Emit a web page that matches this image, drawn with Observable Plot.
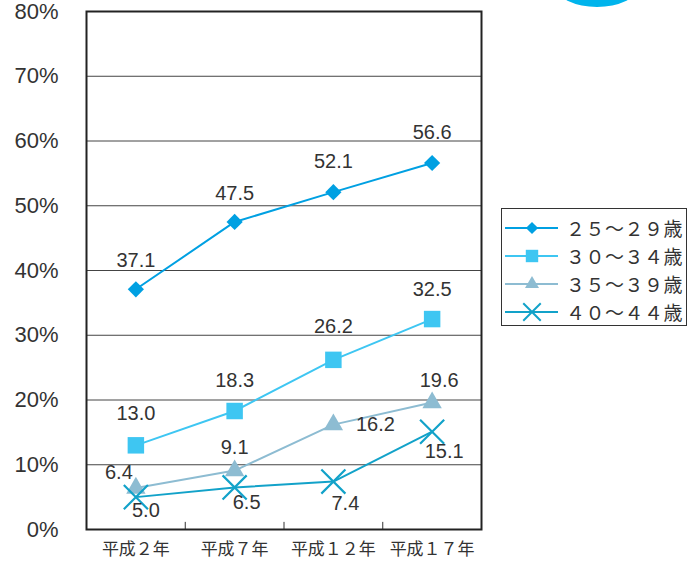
<!DOCTYPE html>
<html><head><meta charset="utf-8">
<script src="https://cdn.jsdelivr.net/npm/d3@7"></script>
<script src="https://cdn.jsdelivr.net/npm/@observablehq/plot@0.6"></script>
<style>
body{margin:0;background:#fff;}
#wrap{position:relative;width:690px;height:562px;overflow:hidden;font-family:"Liberation Sans",Arial,sans-serif;}
#blob{position:absolute;left:557px;top:-32px;width:80px;height:39px;border-radius:50%;background:#00b4ec;}
#legend{position:absolute;left:501px;top:208px;width:184px;height:116px;border:1.5px solid #333;background:#fff;}
.row{position:absolute;left:0;height:28px;width:184px;}
.row svg{position:absolute;left:0;top:0;}
.row span{position:absolute;left:64px;top:0px;font-family:"Noto Sans CJK JP",sans-serif;font-size:19px;line-height:26px;color:#333;letter-spacing:0.5px;}
</style></head><body><div id="wrap"><div id="blob"></div></div>
<script>
const periods = ["平成２年","平成７年","平成１２年","平成１７年"];
const seriesNames = ["２５～２９歳","３０～３４歳","３５～３９歳","４０～４４歳"];
const v2529 = [37.1, 47.5, 52.1, 56.6];
const v3034 = [13.0, 18.3, 26.2, 32.5];
const v3539 = [6.4, 9.1, 16.2, 19.6];
const v4044 = [5.0, 6.5, 7.4, 15.1];
const yTicks = [0, 10, 20, 30, 40, 50, 60, 70, 80];

// styles
const colors = ["#00a0e2", "#3ec6f2", "#8dbcd2", "#12a2c9"];
const symbols = ["diamond2", "square", "triangle", "times"];
const symR = [7.3, 9.3, 7.2, 11];
const legR = [5.5, 7, 5.2, 8];
const labelDx = [[0,0,0,0],[0,0,0,0],[-17,0,42,7],[10,12,12,12]];
const labelDy = [[-29,-28,-31,-30],[-32,-30,-33,-29],[-15,-23,0,-22],[13,15,22,20]];

const allValues = [v2529, v3034, v3539, v4044];
const rows = [];
allValues.forEach((vals, s) => vals.forEach((v, i) => rows.push({s, i, x: i + 0.5, period: periods[i], value: v})));

const marks = [
  Plot.gridY(yTicks, {stroke: "#444", strokeOpacity: 1, strokeWidth: 1}),
  Plot.ruleX([1, 2, 3], {y1: 0, y2: 1.1, stroke: "#333", strokeWidth: 1}),
  Plot.frame({stroke: "#222", strokeWidth: 2}),
  Plot.axisY({ticks: yTicks, label: null, tickSize: 0, tickPadding: 28, tickFormat: d => d + "%", fontSize: 22, fill: "#333", fontFamily: "Liberation Sans, Arial, sans-serif"}),
  Plot.axisX({ticks: periods.map((p, i) => i + 0.5), label: null, tickSize: 0, tickPadding: 13, tickFormat: d => periods[Math.round(d - 0.5)], fontSize: 17, fill: "#333", fontFamily: "Noto Sans CJK JP, sans-serif"})
];
allValues.forEach((vals, s) => {
  const d = rows.filter(r => r.s === s);
  marks.push(Plot.line(d, {x: "x", y: "value", stroke: colors[s], strokeWidth: 2}));
});
allValues.forEach((vals, s) => {
  const d = rows.filter(r => r.s === s);
  if (symbols[s] === "times") {
    marks.push(Plot.dot(d, {x: "x", y: "value", symbol: symbols[s], r: symR[s], stroke: colors[s], strokeWidth: 2.2, fill: "none"}));
  } else {
    marks.push(Plot.dot(d, {x: "x", y: "value", symbol: symbols[s], r: symR[s], fill: colors[s], stroke: "none"}));
  }
});
rows.forEach(r => {
  marks.push(Plot.text([r], {x: "x", y: "value", text: d => d.value.toFixed(1), dx: labelDx[r.s][r.i], dy: labelDy[r.s][r.i], fill: "#333", fontSize: 20, fontFamily: "Liberation Sans, Arial, sans-serif"}));
});

const chart = Plot.plot({
  width: 690, height: 562,
  marginLeft: 86, marginRight: 209, marginTop: 11, marginBottom: 33,
  x: {domain: [0, 4], axis: null},
  y: {domain: [0, 80], axis: null},
  style: {background: "transparent"},
  marks
});
chart.style.position = "absolute";
chart.style.left = "0"; chart.style.top = "0";
document.getElementById("wrap").appendChild(chart);

// legend
const legend = document.createElement("div");
legend.id = "legend";
const symMap = {diamond2: d3.symbolDiamond2, square: d3.symbolSquare, triangle: d3.symbolTriangle, times: d3.symbolTimes};
seriesNames.forEach((name, s) => {
  const row = document.createElement("div");
  row.className = "row";
  row.style.top = (6 + s * 28) + "px";
  const svg = d3.create("svg").attr("width", 62).attr("height", 28);
  svg.append("line").attr("x1", 3).attr("x2", 56).attr("y1", 13).attr("y2", 13).attr("stroke", colors[s]).attr("stroke-width", 2);
  const path = d3.symbol(symMap[symbols[s]], Math.PI * legR[s] * legR[s])();
  const p = svg.append("path").attr("d", path).attr("transform", "translate(30,13)");
  if (symbols[s] === "times") p.attr("fill", "none").attr("stroke", colors[s]).attr("stroke-width", 2);
  else p.attr("fill", colors[s]);
  row.appendChild(svg.node());
  const span = document.createElement("span");
  span.textContent = name;
  row.appendChild(span);
  legend.appendChild(row);
});
document.getElementById("wrap").appendChild(legend);
</script>
</body></html>
